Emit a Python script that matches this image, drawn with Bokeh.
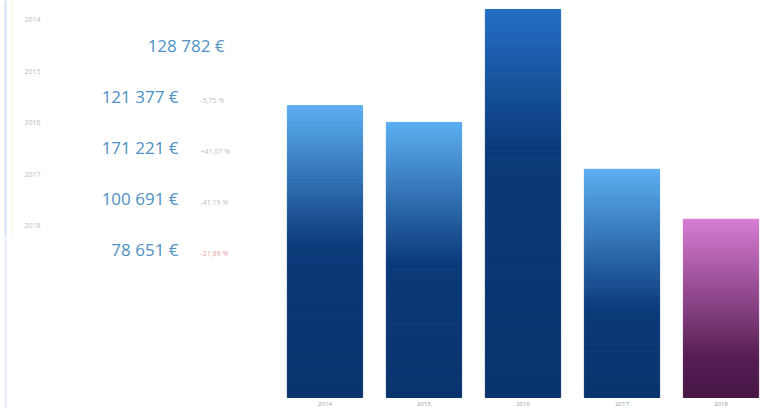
from bokeh.plotting import figure
from bokeh.layouts import row
from bokeh.models import Range1d
from bokeh.core.properties import value
from bokeh.embed import file_html
from bokeh.resources import INLINE

# ---- data ----
years = ["2014", "2015", "2016", "2017", "2018"]
amounts = [128782, 121377, 171221, 100691, 78651]
amount_labels = ["128 782 €", "121 377 €", "171 221 €", "100 691 €", "78 651 €"]
change_labels = ["", "-5,75 %", "+41,07 %", "-41,19 %", "-21,89 %"]
bar_palette = ["blue", "blue", "blue_deep", "blue", "pink"]

FONT = "Open Sans"

# ---- left text panel ----
left = figure(width=262, height=408, x_range=Range1d(0, 262), y_range=Range1d(408, 0),
              output_backend="svg", toolbar_location=None, min_border=0)
left.axis.visible = False
left.grid.visible = False
left.outline_line_color = None
left.background_fill_color = "white"

# thin decorative lines at the left edge
left.segment(x0=[5], y0=[0], x1=[5], y1=[235], line_color="#cfe2f5", line_width=2)
left.segment(x0=[5], y0=[235], x1=[5], y1=[408], line_color="#e8f0f9", line_width=2)
left.segment(x0=[12], y0=[0], x1=[12], y1=[235], line_color="#fdf8ea", line_width=2)

row_y = [45 + i * 51 for i in range(len(years))]
small_y = [19 + i * 51.5 for i in range(len(years))]
label_x = [224] + [178] * (len(years) - 1)

left.text(x=[24] * len(years), y=small_y, text=years, text_font=value(FONT),
          text_font_size="7px", text_color="#bdbdbd", text_baseline="middle", text_align="left")
left.text(x=label_x, y=row_y, text=amount_labels, text_font=value(FONT),
          text_font_size="17px", text_color="#5090c3", text_baseline="middle", text_align="right")
chg_colors = ["#bdbdbd", "#bdbdbd", "#bdbdbd", "#bdbdbd", "#e6a0a0"]
left.text(x=[200] * len(years), y=[y + 4 for y in row_y], text=change_labels, text_font=value(FONT),
          text_font_size="7px", text_color=chg_colors, text_baseline="middle", text_align="left")

# ---- right bar panel ----
vmax = max(amounts)
k = vmax / 388.0                      # value per pixel
p = figure(width=499, height=408, x_range=Range1d(-0.631, 4.409), y_range=Range1d(-11 * k, 397 * k),
           output_backend="svg", toolbar_location=None, min_border=0)
p.grid.visible = False
p.outline_line_color = None
p.axis.visible = False

ramps = {
    "blue": ((0x5c, 0xae, 0xf2), (0x0b, 0x3a, 0x7a), (0x0a, 0x34, 0x6e)),
    "blue_deep": ((0x24, 0x6e, 0xc4), (0x0b, 0x3a, 0x7a), (0x0a, 0x34, 0x6e)),
    "pink": ((0xd6, 0x7c, 0xd2), (0x55, 0x1c, 0x52), (0x47, 0x18, 0x46)),
}

def mix(a, b, t):
    return "#%02x%02x%02x" % tuple(int(round(a[j] + (b[j] - a[j]) * t)) for j in range(3))

N = 60
lefts, rights, bottoms, tops, colors = [], [], [], [], []
fade = 140 * k   # distance over which the top highlight fades
half_w = 0.38
for i, (v, pal) in enumerate(zip(amounts, bar_palette)):
    c_top, c_mid, c_bot = ramps[pal]
    for s in range(N):
        b = v * s / N
        t_ = v * (s + 1) / N
        d = v - (b + t_) / 2.0
        if d < fade:
            col = mix(c_top, c_mid, d / fade)
        else:
            col = mix(c_mid, c_bot, min(1.0, (d - fade) / max(v - fade, 1)))
        lefts.append(i - half_w)
        rights.append(i + half_w)
        bottoms.append(b)
        tops.append(t_)
        colors.append(col)

p.quad(left=lefts, right=rights, bottom=bottoms, top=tops, fill_color=colors,
       line_color=colors, line_width=1)

# year labels under the bars
p.text(x=list(range(len(years))), y=[-6 * k] * len(years), text=years, text_font=value(FONT),
       text_font_size="6px", text_color="#9a9a9a", text_align="center", text_baseline="middle")

layout = row(left, p)
open("out.html", "w").write(file_html(layout, INLINE))
